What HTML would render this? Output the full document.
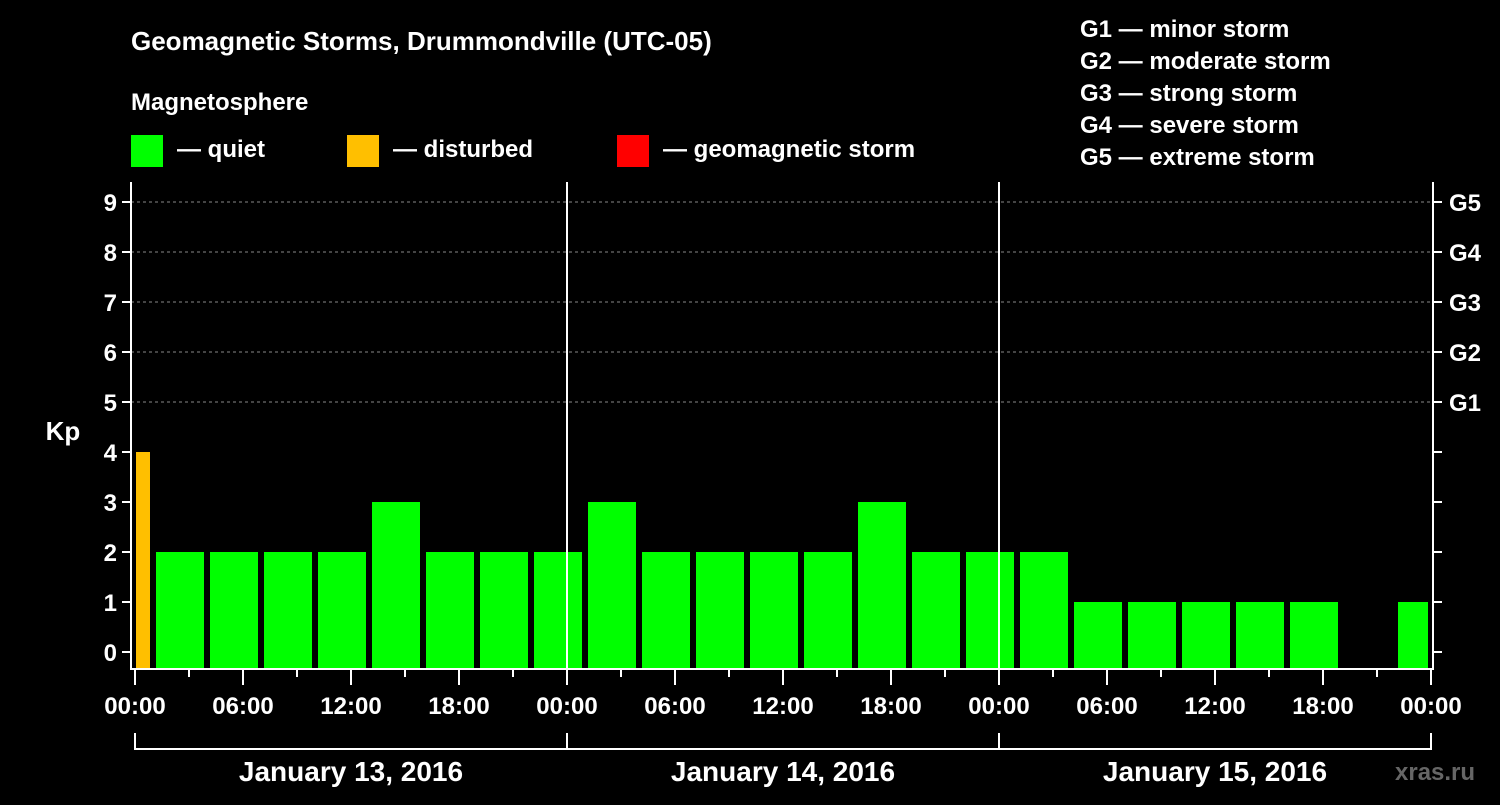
<!DOCTYPE html>
<html><head><meta charset="utf-8"><style>
body{margin:0;background:#000;width:1500px;height:800px;overflow:hidden}
text{font-family:"Liberation Sans",Arial,sans-serif;font-weight:bold;fill:#fff}
</style></head><body>
<svg id="c" width="1500" height="800" xmlns="http://www.w3.org/2000/svg">
<text x="131" y="50" font-size="26">Geomagnetic Storms, Drummondville (UTC-05)</text>
<text x="131" y="110" font-size="24">Magnetosphere</text>
<g><rect x="131" y="135" width="32" height="32" fill="#00ff00"/><text x="177" y="157" font-size="24">— quiet</text></g>
<g><rect x="347" y="135" width="32" height="32" fill="#ffbf00"/><text x="393" y="157" font-size="24">— disturbed</text></g>
<g><rect x="617" y="135" width="32" height="32" fill="#ff0000"/><text x="663" y="157" font-size="24">— geomagnetic storm</text></g>
<g font-size="24">
<text x="1080" y="37">G1 — minor storm</text>
<text x="1080" y="69">G2 — moderate storm</text>
<text x="1080" y="101">G3 — strong storm</text>
<text x="1080" y="133">G4 — severe storm</text>
<text x="1080" y="165">G5 — extreme storm</text>
</g>
<text x="1395" y="780" font-size="24" fill="#666" style="fill:#666">xras.ru</text>
<text x="63" y="440" font-size="26" text-anchor="middle">Kp</text>
<g id="g"></g>
</svg>
<script>
const kpValues=[4,2,2,2,2,3,2,2,2,3,2,2,2,2,3,2,2,2,1,1,1,1,1,null,1];
const barStartHours=[-2,1,4,7,10,13,16,19,22,25,28,31,34,37,40,43,46,49,52,55,58,61,64,67,70];
const yTicks=[0,1,2,3,4,5,6,7,8,9];
const gLabels=["G1","G2","G3","G4","G5"];
const xTickLabels=["00:00","06:00","12:00","18:00","00:00","06:00","12:00","18:00","00:00","06:00","12:00","18:00","00:00"];
const dayLabels=["January 13, 2016","January 14, 2016","January 15, 2016"];
const NS="http://www.w3.org/2000/svg";
const g=document.getElementById('g');
const L=131,R=1433,T=182,B=669,X0=135,PXH=18;
const x=h=>X0+h*PXH;
const y=v=>652-v*50;
function el(t,a){const e=document.createElementNS(NS,t);for(const k in a)e.setAttribute(k,a[k]);g.appendChild(e);return e;}
// grid
for(let v=5;v<=9;v++){const e=el('line',{x1:L,x2:R,y1:y(v),y2:y(v),stroke:'#888','stroke-dasharray':'3,3','stroke-width':1});

}
// bars
kpValues.forEach((v,i)=>{if(v===null)return;
let x1=Math.max(x(barStartHours[i])+3,136),x2=Math.min(x(barStartHours[i]+3)-3,1428);
const c=v>=5?'#ff0000':v>=4?'#ffbf00':'#00ff00';
const r=el('rect',{x:x1,y:y(v),width:x2-x1,height:B-y(v),fill:c});

});
// day separators
[1,2].forEach(d=>{const e=el('line',{x1:x(d*24),x2:x(d*24),y1:T,y2:B,stroke:'#fff','stroke-width':2});

});
// frame
const f=el('path',{d:`M${L},${T}V${B}H${R}V${T}`,fill:'none',stroke:'#fff','stroke-width':2});


// y ticks
yTicks.forEach(v=>{el('line',{x1:L-9,x2:L,y1:y(v),y2:y(v),stroke:'#fff','stroke-width':2});
el('line',{x1:R,x2:R+9,y1:y(v),y2:y(v),stroke:'#fff','stroke-width':2});
const t=el('text',{x:L-14,y:y(v)+9,'font-size':24,'text-anchor':'end'});t.textContent=v;

});
gLabels.forEach((s,i)=>{const t=el('text',{x:R+16,y:y(5+i)+9,'font-size':24});t.textContent=s;

});
// x ticks
for(let h=0;h<=72;h+=3){const maj=h%6===0;el('line',{x1:x(h),x2:x(h),y1:B,y2:B+(maj?16:8),stroke:'#fff','stroke-width':2});}
xTickLabels.forEach((s,i)=>{const t=el('text',{x:x(i*6),y:714,'font-size':24,'text-anchor':'middle'});t.textContent=s;

});
// day brackets
const br=el('path',{d:`M${x(0)},733V749H${x(72)}V733M${x(24)},733V749M${x(48)},733V749`,fill:'none',stroke:'#fff','stroke-width':2});


dayLabels.forEach((s,i)=>{const t=el('text',{x:x(i*24+12),y:781,'font-size':28,'text-anchor':'middle'});t.textContent=s;

});
</script>
</body></html>
